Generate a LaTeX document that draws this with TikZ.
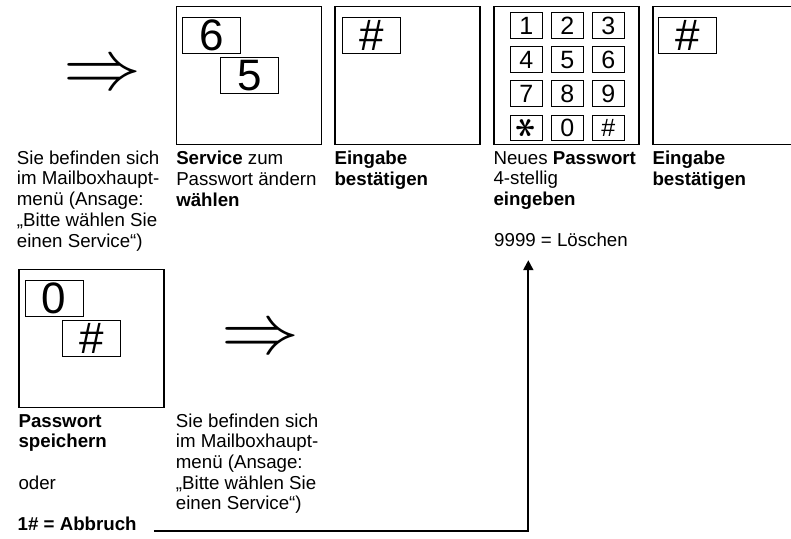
\documentclass[tikz,border=0pt]{standalone}
\usepackage{graphicx}
\usepackage{fontspec}
\setmainfont{Liberation Sans}
\usetikzlibrary{positioning,arrows.meta}

\begin{document}
\begin{tikzpicture}[
    x=1pt, y=-1pt,
    >={Triangle[length=10pt,width=10pt]},
    panel/.style={draw,line width=1.3pt,minimum width=145pt,minimum height=137.6pt,inner sep=0pt},
    digit/.style={draw,line width=0.8pt,minimum width=58pt,minimum height=36pt,inner sep=0pt,font=\fontsize{44}{44}\selectfont},
    key/.style={draw,line width=0.8pt,minimum width=32.3pt,minimum height=25.6pt,inner sep=0pt,font=\fontsize{25}{25}\selectfont},
    caption/.style={align=left,inner sep=0pt,anchor=north west,font=\fontsize{18.7}{20.7}\selectfont},
    goto/.style={inner sep=0pt}
]
\useasboundingbox (0,0) rectangle (791,538);

% top row
\node[goto] (go1) at (102,76.5) {\scalebox{7.8}[7.1]{$\Rightarrow$}};
\node[caption] (c1) at (16.7,150.5)
{Sie befinden sich\\im Mailboxhaupt-\\menü (Ansage:\\„Bitte wählen Sie\\einen Service“)};

\node[panel] (p1) at (249.2,75.5) {};
\node[digit] (d6) at (211.5,35.3) {6};
\node[digit] (d5) at (249.3,75.5) {5};
\node[caption,below=6pt of p1.south west,anchor=north west] (c2)
{\textbf{Service} zum\\Passwort ändern\\\textbf{wählen}};

\node[panel] (p2) at (407.5,75.5) {};
\node[digit] (h1) at (371.3,35.3) {\#};
\node[caption,below=6pt of p2.south west,anchor=north west] (c3)
{\textbf{Eingabe}\\\textbf{bestätigen}};

\node[panel] (pad) at (566.5,75.5) {};
\foreach \lbl [count=\i from 0] in {1,2,3,4,5,6,7,8,9,{\scalebox{1.6}{\rotatebox{90}{\boldmath$\ast$}}},0,\#}
  \node[key] (k\i) at ({526.2+41*mod(\i,3)},{25.5+34.07*floor(\i/3)}) {\lbl};
\node[caption,below=6pt of pad.south west,anchor=north west] (c4)
{Neues \textbf{Passwort}\\4-stellig\\\textbf{eingeben}};
\node[inner sep=0pt,anchor=base west,font=\fontsize{18.7}{20.7}\selectfont]
(erase) at (494,246.8) {9999 = Löschen};

\node[panel] (p4) at (725.5,75.5) {};
\node[digit] (h2) at (687.8,35.3) {\#};
\node[caption,below=6pt of p4.south west,anchor=north west] (c5)
{\textbf{Eingabe}\\\textbf{bestätigen}};

% bottom row
\node[panel] (p5) at (91.5,338.5) {};
\node[digit] (d0) at (54.2,298) {0};
\node[digit] (h3) at (91.8,338.7) {\#};
\node[caption,below=6pt of p5.south west,anchor=north west] (c6)
{\textbf{Passwort}\\\textbf{speichern}\\[20.7pt]oder};
\node[inner sep=0pt,anchor=base west,font=\fontsize{18.7}{20.7}\selectfont\bfseries]
(abort) at (17.5,530.5) {1\# = Abbruch};

\node[goto] (go2) at (260.2,340.3) {\scalebox{7.8}[7.1]{$\Rightarrow$}};
\node[caption] (c7) at (175.7,413.4)
{Sie befinden sich\\im Mailboxhaupt-\\menü (Ansage:\\„Bitte wählen Sie\\einen Service“)};

\draw[->,line width=2pt]
([xshift=17pt]abort.base east) -|
([shift={(34.3,13)}]erase.south west);

\end{tikzpicture}
\end{document}
